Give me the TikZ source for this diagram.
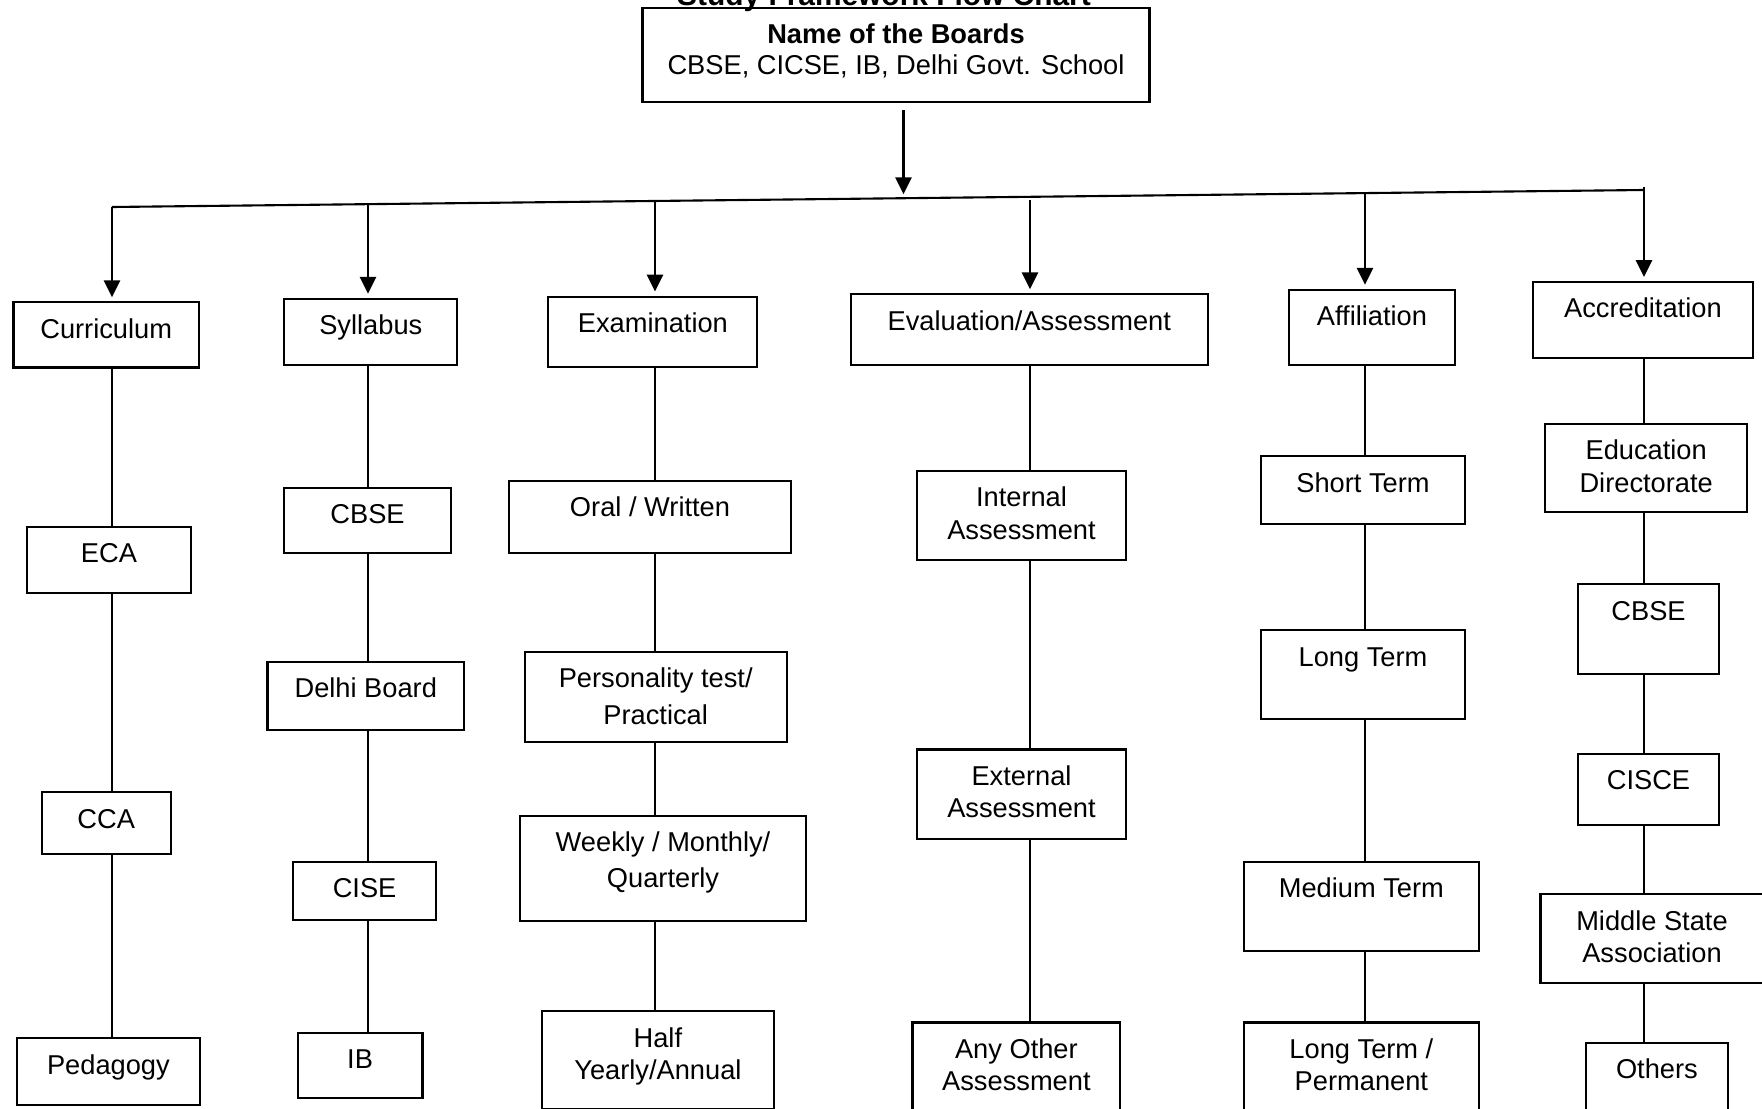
\documentclass[tikz,border=0pt]{standalone}
\usepackage{fontspec}
\setmainfont{Liberation Sans}
\usetikzlibrary{arrows.meta}
\newlength{\px}
\setlength{\px}{0.01cm}
\newcommand{\celltext}[3]{\parbox[c][#2\px][t]{#1\px}{\centering\rule{0pt}{36\px}#3}}
\tikzset{
  cell/.style={draw, line width=0.6pt, anchor=north, inner sep=0pt},
  link/.style={line width=0.6pt},
  down/.style={line width=0.6pt, -{Triangle[length=4.8pt,width=4.6pt]}, shorten >=0.04cm},
}

\begin{document}
\begin{tikzpicture}[x=0.01cm, y=-0.01cm, font=\fontsize{7.75}{9.25}\selectfont]
\useasboundingbox (0,0) rectangle (1762,1109);
\clip (0,0) rectangle (1762,1109);

\node[anchor=base, font=\fontsize{8.5}{10}\selectfont\bfseries] (Title) at (884,5) {Study Framework Flow Chart};
\node[cell] (Top) at (896,6.7) {\celltext{507}{94.4}{\textbf{Name of the Boards}\\[-2\px]CBSE, CICSE, IB, Delhi Govt. School}};

% first level
\node[cell] (Curr)  at (106.2,301.2) {\celltext{185.4}{65.2}{Curriculum}};
\node[cell] (Syl)   at (370.8,297.8) {\celltext{173}{66.3}{Syllabus}};
\node[cell] (Exam)  at (652.9,295.5) {\celltext{209}{70.8}{Examination}};
\node[cell] (Eval)  at (1029.3,293.3) {\celltext{357.4}{70.8}{Evaluation/Assessment}};
\node[cell] (Affil) at (1372,288.8) {\celltext{166.3}{75.3}{Affiliation}};
\node[cell] (Accr)  at (1642.9,280.9) {\celltext{220.3}{76.4}{Accreditation}};

% curriculum
\node[cell] (ECA) at (109,525.9) {\celltext{164}{66.3}{ECA}};
\node[cell] (CCA) at (106.2,791.1) {\celltext{129.2}{61.8}{CCA}};
\node[cell] (Ped) at (108.4,1037.2) {\celltext{183.2}{66.3}{Pedagogy}};

% syllabus
\node[cell] (SyCBSE)  at (367.5,486.6) {\celltext{166.3}{65.2}{CBSE}};
\node[cell] (SyDelhi) at (365.8,660.7) {\celltext{196.6}{68.5}{Delhi Board}};
\node[cell] (SyCISE)  at (364.6,860.8) {\celltext{142.7}{58.4}{CISE}};
\node[cell] (SyIB)    at (360.1,1031.6) {\celltext{124.7}{65.2}{IB}};

% examination
\node[cell] (ExOral) at (650,479.8) {\celltext{282}{71.9}{Oral / Written}};
\node[cell] (ExPers) at (655.7,650.6) {\celltext{261.8}{89.9}{Personality test/\\[4\px]Practical}};
\node[cell] (ExWeek) at (663,814.7) {\celltext{285.4}{105.6}{Weekly / Monthly/\\[3\px]Quarterly}};
\node[cell] (ExHalf) at (657.9,1010.2) {\celltext{232.6}{97.3}{Half\\Yearly/Annual}};

% evaluation
\node[cell] (EvInt)   at (1021.5,469.7) {\celltext{209}{88.8}{Internal\\Assessment}};
\node[cell] (EvExt)   at (1021.5,748.4) {\celltext{209}{89.9}{External\\Assessment}};
\node[cell] (EvOther) at (1016.4,1021.4) {\celltext{207.9}{200}{Any Other\\Assessment}};

% affiliation
\node[cell] (AfShort) at (1363,455.1) {\celltext{204.5}{67.4}{Short Term}};
\node[cell] (AfLong)  at (1363,629.3) {\celltext{204.5}{88.8}{Long Term}};
\node[cell] (AfMed)   at (1361.4,860.8) {\celltext{234.9}{88.8}{Medium Term}};
\node[cell] (AfPerm)  at (1361.4,1021.4) {\celltext{234.9}{200}{Long Term /\\Permanent}};

% accreditation
\node[cell] (AcEdu)   at (1646.2,422.5) {\celltext{202.3}{88.8}{Education\\Directorate}};
\node[cell] (AcCBSE)  at (1648.5,583.2) {\celltext{141.6}{89.9}{CBSE}};
\node[cell] (AcCISCE) at (1648.5,752.9) {\celltext{141.6}{70.8}{CISCE}};
\node[cell] (AcMSA)   at (1652,893.3) {\celltext{223}{88.4}{Middle State\\Association}};
\node[cell] (AcOther) at (1656.9,1041.7) {\celltext{142.7}{200}{Others}};

% bus
\coordinate (hub) at (903.5,198.2);
\coordinate (b1) at (112,207);
\coordinate (b2) at (368,204.2);
\coordinate (b3) at (655,201);
\coordinate (b4) at (1030,200);
\coordinate (b5) at (1365,193.1);
\coordinate (b6) at (1644,186.7);
\coordinate (busR) at (1644,190);

\draw[down, shorten <=0.07cm] (hub |- Top.south) -- (hub);
\draw[link] (b1) -- (busR);
\draw[down] (b1) -- (b1 |- Curr.north);
\draw[down] (b2) -- (b2 |- Syl.north);
\draw[down] (b3) -- (b3 |- Exam.north);
\draw[down] (b4) -- (b4 |- Eval.north);
\draw[down] (b5) -- (b5 |- Affil.north);
\draw[down] (b6) -- (b6 |- Accr.north);

\draw[link] (b1 |- Curr.south) -- (b1 |- ECA.north);
\draw[link] (b1 |- ECA.south) -- (b1 |- CCA.north);
\draw[link] (b1 |- CCA.south) -- (b1 |- Ped.north);

\draw[link] (b2 |- Syl.south) -- (b2 |- SyCBSE.north);
\draw[link] (b2 |- SyCBSE.south) -- (b2 |- SyDelhi.north);
\draw[link] (b2 |- SyDelhi.south) -- (b2 |- SyCISE.north);
\draw[link] (b2 |- SyCISE.south) -- (b2 |- SyIB.north);

\draw[link] (b3 |- Exam.south) -- (b3 |- ExOral.north);
\draw[link] (b3 |- ExOral.south) -- (b3 |- ExPers.north);
\draw[link] (b3 |- ExPers.south) -- (b3 |- ExWeek.north);
\draw[link] (b3 |- ExWeek.south) -- (b3 |- ExHalf.north);

\draw[link] (b4 |- Eval.south) -- (b4 |- EvInt.north);
\draw[link] (b4 |- EvInt.south) -- (b4 |- EvExt.north);
\draw[link] (b4 |- EvExt.south) -- (b4 |- EvOther.north);

\draw[link] (b5 |- Affil.south) -- (b5 |- AfShort.north);
\draw[link] (b5 |- AfShort.south) -- (b5 |- AfLong.north);
\draw[link] (b5 |- AfLong.south) -- (b5 |- AfMed.north);
\draw[link] (b5 |- AfMed.south) -- (b5 |- AfPerm.north);

\draw[link] (b6 |- Accr.south) -- (b6 |- AcEdu.north);
\draw[link] (b6 |- AcEdu.south) -- (b6 |- AcCBSE.north);
\draw[link] (b6 |- AcCBSE.south) -- (b6 |- AcCISCE.north);
\draw[link] (b6 |- AcCISCE.south) -- (b6 |- AcMSA.north);
\draw[link] (b6 |- AcMSA.south) -- (b6 |- AcOther.north);
\end{tikzpicture}
\end{document}
